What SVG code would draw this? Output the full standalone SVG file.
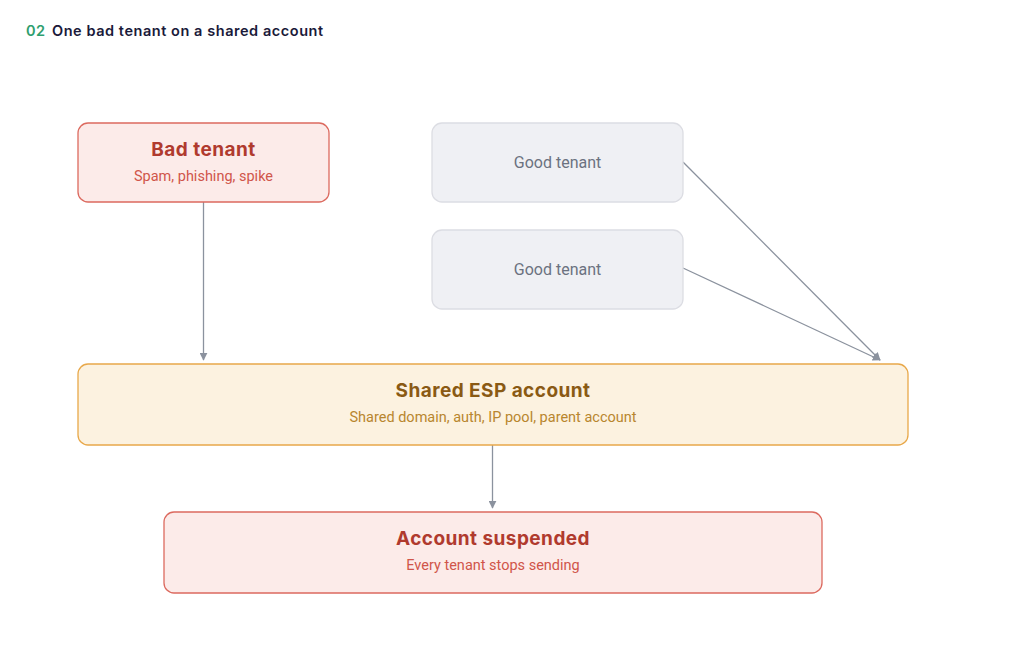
<svg xmlns="http://www.w3.org/2000/svg" width="1024" height="647" viewBox="0 0 1024 647">
<defs>
<marker id="arr" viewBox="0 0 10 10" refX="9" refY="5" markerWidth="8" markerHeight="8" markerUnits="userSpaceOnUse" orient="auto">
<path d="M0,0 L10,5 L0,10 z" fill="#8b929e"/>
</marker>
<style>
.ttl{font-family:Inter,"Noto Sans",sans-serif;font-weight:600;font-size:14.5px;letter-spacing:0.55px}
.red{fill:#fcebe9;stroke:#dc6a5f;stroke-width:1.3}
.gray{fill:#eff0f4;stroke:#dcdde3;stroke-width:1.3}
.amb{fill:#fcf2e0;stroke:#e8a84a;stroke-width:1.3}
.h{font-family:Inter,"Noto Sans",sans-serif;font-weight:700;font-size:19px;letter-spacing:0.45px;text-anchor:middle}
.s{font-family:Roboto,"Liberation Sans",sans-serif;font-size:14.5px;text-anchor:middle}
.g{font-family:Roboto,"Liberation Sans",sans-serif;font-size:16px;text-anchor:middle;fill:#6b7280}
.edge{stroke:#8b929e;stroke-width:1.3;fill:none;marker-end:url(#arr)}
</style>
</defs>
<rect width="1024" height="647" fill="#ffffff"/>
<text class="ttl" x="26" y="36"><tspan fill="#2e9e6e">02</tspan><tspan fill="#1a1a3a" x="52">One bad tenant on a shared account</tspan></text>
<g id="connectors">
<line class="edge" x1="203.5" y1="202" x2="203.5" y2="360"/>
<line class="edge" x1="683" y1="162" x2="880" y2="360"/>
<line class="edge" x1="683" y1="268" x2="880" y2="360"/>
<line class="edge" x1="492.5" y1="445" x2="492.5" y2="508"/>
</g>
<g id="bad-tenant">
<rect class="red" x="78" y="123" width="251" height="79" rx="10"/>
<text class="h" x="203.5" y="156" fill="#b03a2e">Bad tenant</text>
<text class="s" x="203.5" y="181" fill="#d0554a">Spam, phishing, spike</text>
</g>
<g id="good-tenant-1">
<rect class="gray" x="432" y="123" width="251" height="79" rx="10"/>
<text class="g" x="557.5" y="168">Good tenant</text>
</g>
<g id="good-tenant-2">
<rect class="gray" x="432" y="230" width="251" height="79" rx="10"/>
<text class="g" x="557.5" y="275">Good tenant</text>
</g>
<g id="shared-esp">
<rect class="amb" x="78" y="364" width="830" height="81" rx="10"/>
<text class="h" x="493" y="397" fill="#8a5a14">Shared ESP account</text>
<text class="s" x="493" y="422" fill="#b8862e">Shared domain, auth, IP pool, parent account</text>
</g>
<g id="account-suspended">
<rect class="red" x="164" y="512" width="658" height="81" rx="10"/>
<text class="h" x="493" y="545" fill="#b03a2e">Account suspended</text>
<text class="s" x="493" y="570" fill="#d0554a">Every tenant stops sending</text>
</g>
</svg>
